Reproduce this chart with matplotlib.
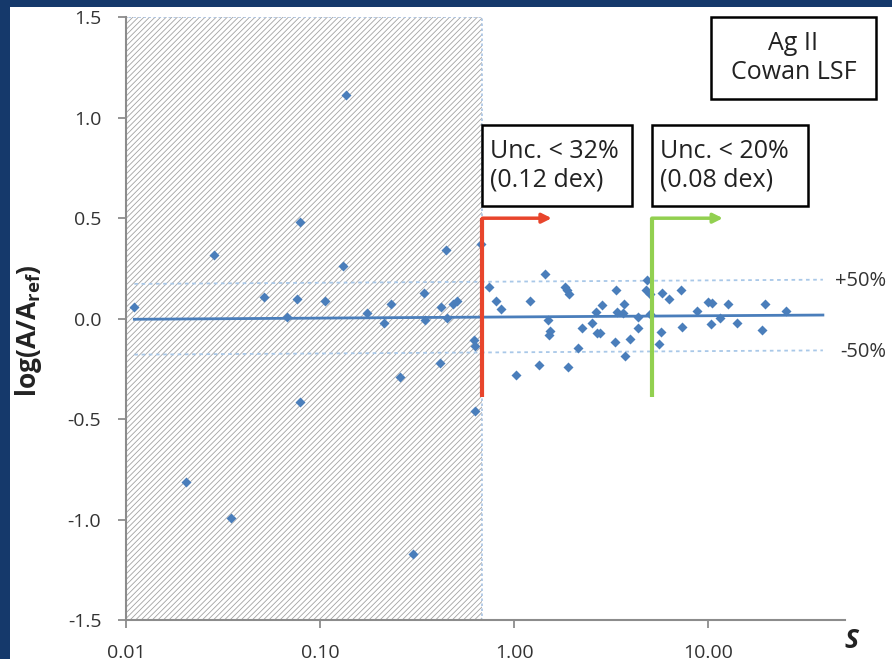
import numpy as np
import matplotlib.pyplot as plt
from matplotlib.patches import Rectangle

plt.rcParams['font.family'] = ['Open Sans', 'DejaVu Sans']
plt.rcParams['mathtext.fontset'] = 'custom'
plt.rcParams['mathtext.rm'] = 'Open Sans:bold'
plt.rcParams['mathtext.it'] = 'Open Sans:bold:italic'
plt.rcParams['hatch.linewidth'] = 0.6

# line strength S  vs  log(A/Aref)
s_vals = [0.0109, 0.0204, 0.0284, 0.0347, 0.0514, 0.0676, 0.0762, 0.0789, 0.0789,
          0.106, 0.136, 0.131, 0.175, 0.214, 0.232, 0.258, 0.301, 0.343, 0.345,
          0.416, 0.42, 0.446, 0.449, 0.486, 0.504, 0.622, 0.628, 0.63, 0.672,
          0.743, 0.807, 0.857, 1.02, 1.205, 1.34, 1.44, 1.49, 1.51, 1.53,
          1.82, 1.87, 1.89, 1.91, 2.13, 2.23, 2.52, 2.64, 2.67, 2.77, 2.83,
          3.30, 3.34, 3.38, 3.63, 3.68, 3.72, 3.95, 4.35, 4.35, 4.78, 4.83,
          5.01, 5.01, 5.57, 5.71, 5.78, 6.28, 7.24, 7.33, 8.77, 9.98, 10.5,
          10.35, 11.5, 12.6, 14.1, 18.9, 19.6, 25.2]
dlog = [0.06, -0.815, 0.315, -0.99, 0.11, 0.01, 0.10, 0.48, -0.415,
        0.09, 1.115, 0.26, 0.03, -0.02, 0.075, -0.29, -1.17, 0.13, -0.005,
        -0.22, 0.06, 0.34, 0.005, 0.075, 0.09, -0.105, -0.135, -0.46, 0.37,
        0.16, 0.09, 0.05, -0.28, 0.09, -0.23, 0.22, -0.005, -0.08, -0.06,
        0.16, 0.145, -0.24, 0.125, -0.145, -0.045, -0.02, 0.035, -0.07, -0.07, 0.07,
        -0.115, 0.145, 0.035, 0.03, 0.075, -0.185, -0.10, 0.01, -0.045, 0.145, 0.19,
        0.125, 0.025, -0.125, -0.065, 0.13, 0.10, 0.145, -0.04, 0.04, 0.085, 0.08,
        -0.025, 0.005, 0.075, -0.02, -0.055, 0.075, 0.04]

fit_x = [0.011, 39.0]
fit_y = [-0.003, 0.018]
band = 0.176          # log10(1.5) -> +/-50 %

cut_red = 0.685       # Unc. < 32 %
cut_green = 5.12      # Unc. < 20 %
arrow_red_end = 1.56
arrow_green_end = 11.9
arrow_y = 0.5
line_bottom = -0.39

xticks = [0.01, 0.1, 1, 10]
xticklabels = ['0.01', '0.10', '1.00', '10.00']
yticks = [-1.5, -1.0, -0.5, 0.0, 0.5, 1.0, 1.5]

W, H = 892, 659
blue = '#4a7ebb'
red = '#e8452c'
green = '#92d050'
txt_col = '#333333'

fig = plt.figure(figsize=(W / 100, H / 100), dpi=100, facecolor='#15396b')
fig.add_artist(Rectangle((10 / W, 0), 1, 1 - 7 / H, transform=fig.transFigure,
                         facecolor='white', edgecolor='none', zorder=-5))

ax = fig.add_axes([126.3 / W, 39 / H, (845 - 126.3) / W, (620 - 17.3) / H])
ax.set_facecolor('white')
ax.set_xscale('log')
ax.set_xlim(0.01, 50.7)
ax.set_ylim(-1.5, 1.5)

# hatched region (S too small)
ax.add_patch(Rectangle((0.01, -1.5), cut_red - 0.01, 3, facecolor='white',
                       edgecolor='#a2a2a2', hatch='//////', lw=0, zorder=1))
ax.add_patch(Rectangle((0.01, -1.5), cut_red - 0.01, 3, fill=False,
                       edgecolor='#a9c4e4', lw=1.2, ls=(0, (1.5, 1.5)), zorder=1.5))

# trend line and +/-50 % band
ax.plot(fit_x, fit_y, color=blue, lw=2, zorder=2)
ax.plot(fit_x, np.add(fit_y, band), color='#a9c8e8', lw=1.3, ls=(0, (2, 2)), zorder=2)
ax.plot(fit_x, np.subtract(fit_y, band), color='#a9c8e8', lw=1.3, ls=(0, (2, 2)), zorder=2)

ax.plot(s_vals, dlog, 'D', ms=4.8, color=blue, mec='none', zorder=3)

# cut lines with arrows
for xc, xe, col in [(cut_red, arrow_red_end, red), (cut_green, arrow_green_end, green)]:
    ax.plot([xc, xc], [line_bottom, arrow_y], color=col, lw=3, solid_capstyle='butt', zorder=4)
    ax.annotate('', xy=(xe, arrow_y), xytext=(xc, arrow_y),
                arrowprops=dict(arrowstyle='-|>', color=col, lw=2.5,
                                mutation_scale=14, shrinkA=0, shrinkB=0), zorder=4)

for side in ['top', 'right']:
    ax.spines[side].set_visible(False)
for side in ['left', 'bottom']:
    ax.spines[side].set_color('#8c8c8c')
    ax.spines[side].set_linewidth(1.5)

ax.set_xticks(xticks)
ax.set_xticklabels(xticklabels)
ax.minorticks_off()
ax.set_yticks(yticks)
ax.set_yticklabels(['%.1f' % v for v in yticks])
ax.tick_params(axis='both', direction='out', length=6, width=1.3, color='#8c8c8c',
               labelsize=14, labelcolor=txt_col)
ax.tick_params(axis='y', pad=12)
ax.tick_params(axis='x', pad=11)

ax.set_ylabel(r'log(A/A$_\mathrm{ref}$)', fontsize=19, fontweight='bold', color='#222222')
ax.yaxis.set_label_coords(-0.115, 0.48)

fig.text(851 / W, 1 - 640 / H, 'S', fontsize=19, fontweight='bold', style='italic',
         ha='center', va='center', color='#222222')
fig.text(835 / W, 1 - 281 / H, '+50%', fontsize=14.5, color=txt_col, va='center')
fig.text(840 / W, 1 - 352 / H, '-50%', fontsize=14.5, color=txt_col, va='center')


def box(x0, y0, x1, y1, txt, ha):
    fig.add_artist(Rectangle((x0 / W, 1 - y1 / H), (x1 - x0) / W, (y1 - y0) / H,
                             transform=fig.transFigure, facecolor='white',
                             edgecolor='black', lw=1.8, zorder=6))
    tx = (x0 + x1) / 2 if ha == 'center' else x0 + 8
    fig.text(tx / W, 1 - (y0 + y1) / 2 / H, txt, fontsize=18, ha=ha, va='center',
             linespacing=1.2, color='#222222', zorder=7)


box(711, 17, 876, 99, 'Ag II\nCowan LSF', 'center')
box(482, 125, 632, 206, 'Unc. < 32%\n(0.12 dex)', 'left')
box(652, 125, 808, 206, 'Unc. < 20%\n(0.08 dex)', 'left')

fig.savefig('out.png', dpi=100, facecolor=fig.get_facecolor())
